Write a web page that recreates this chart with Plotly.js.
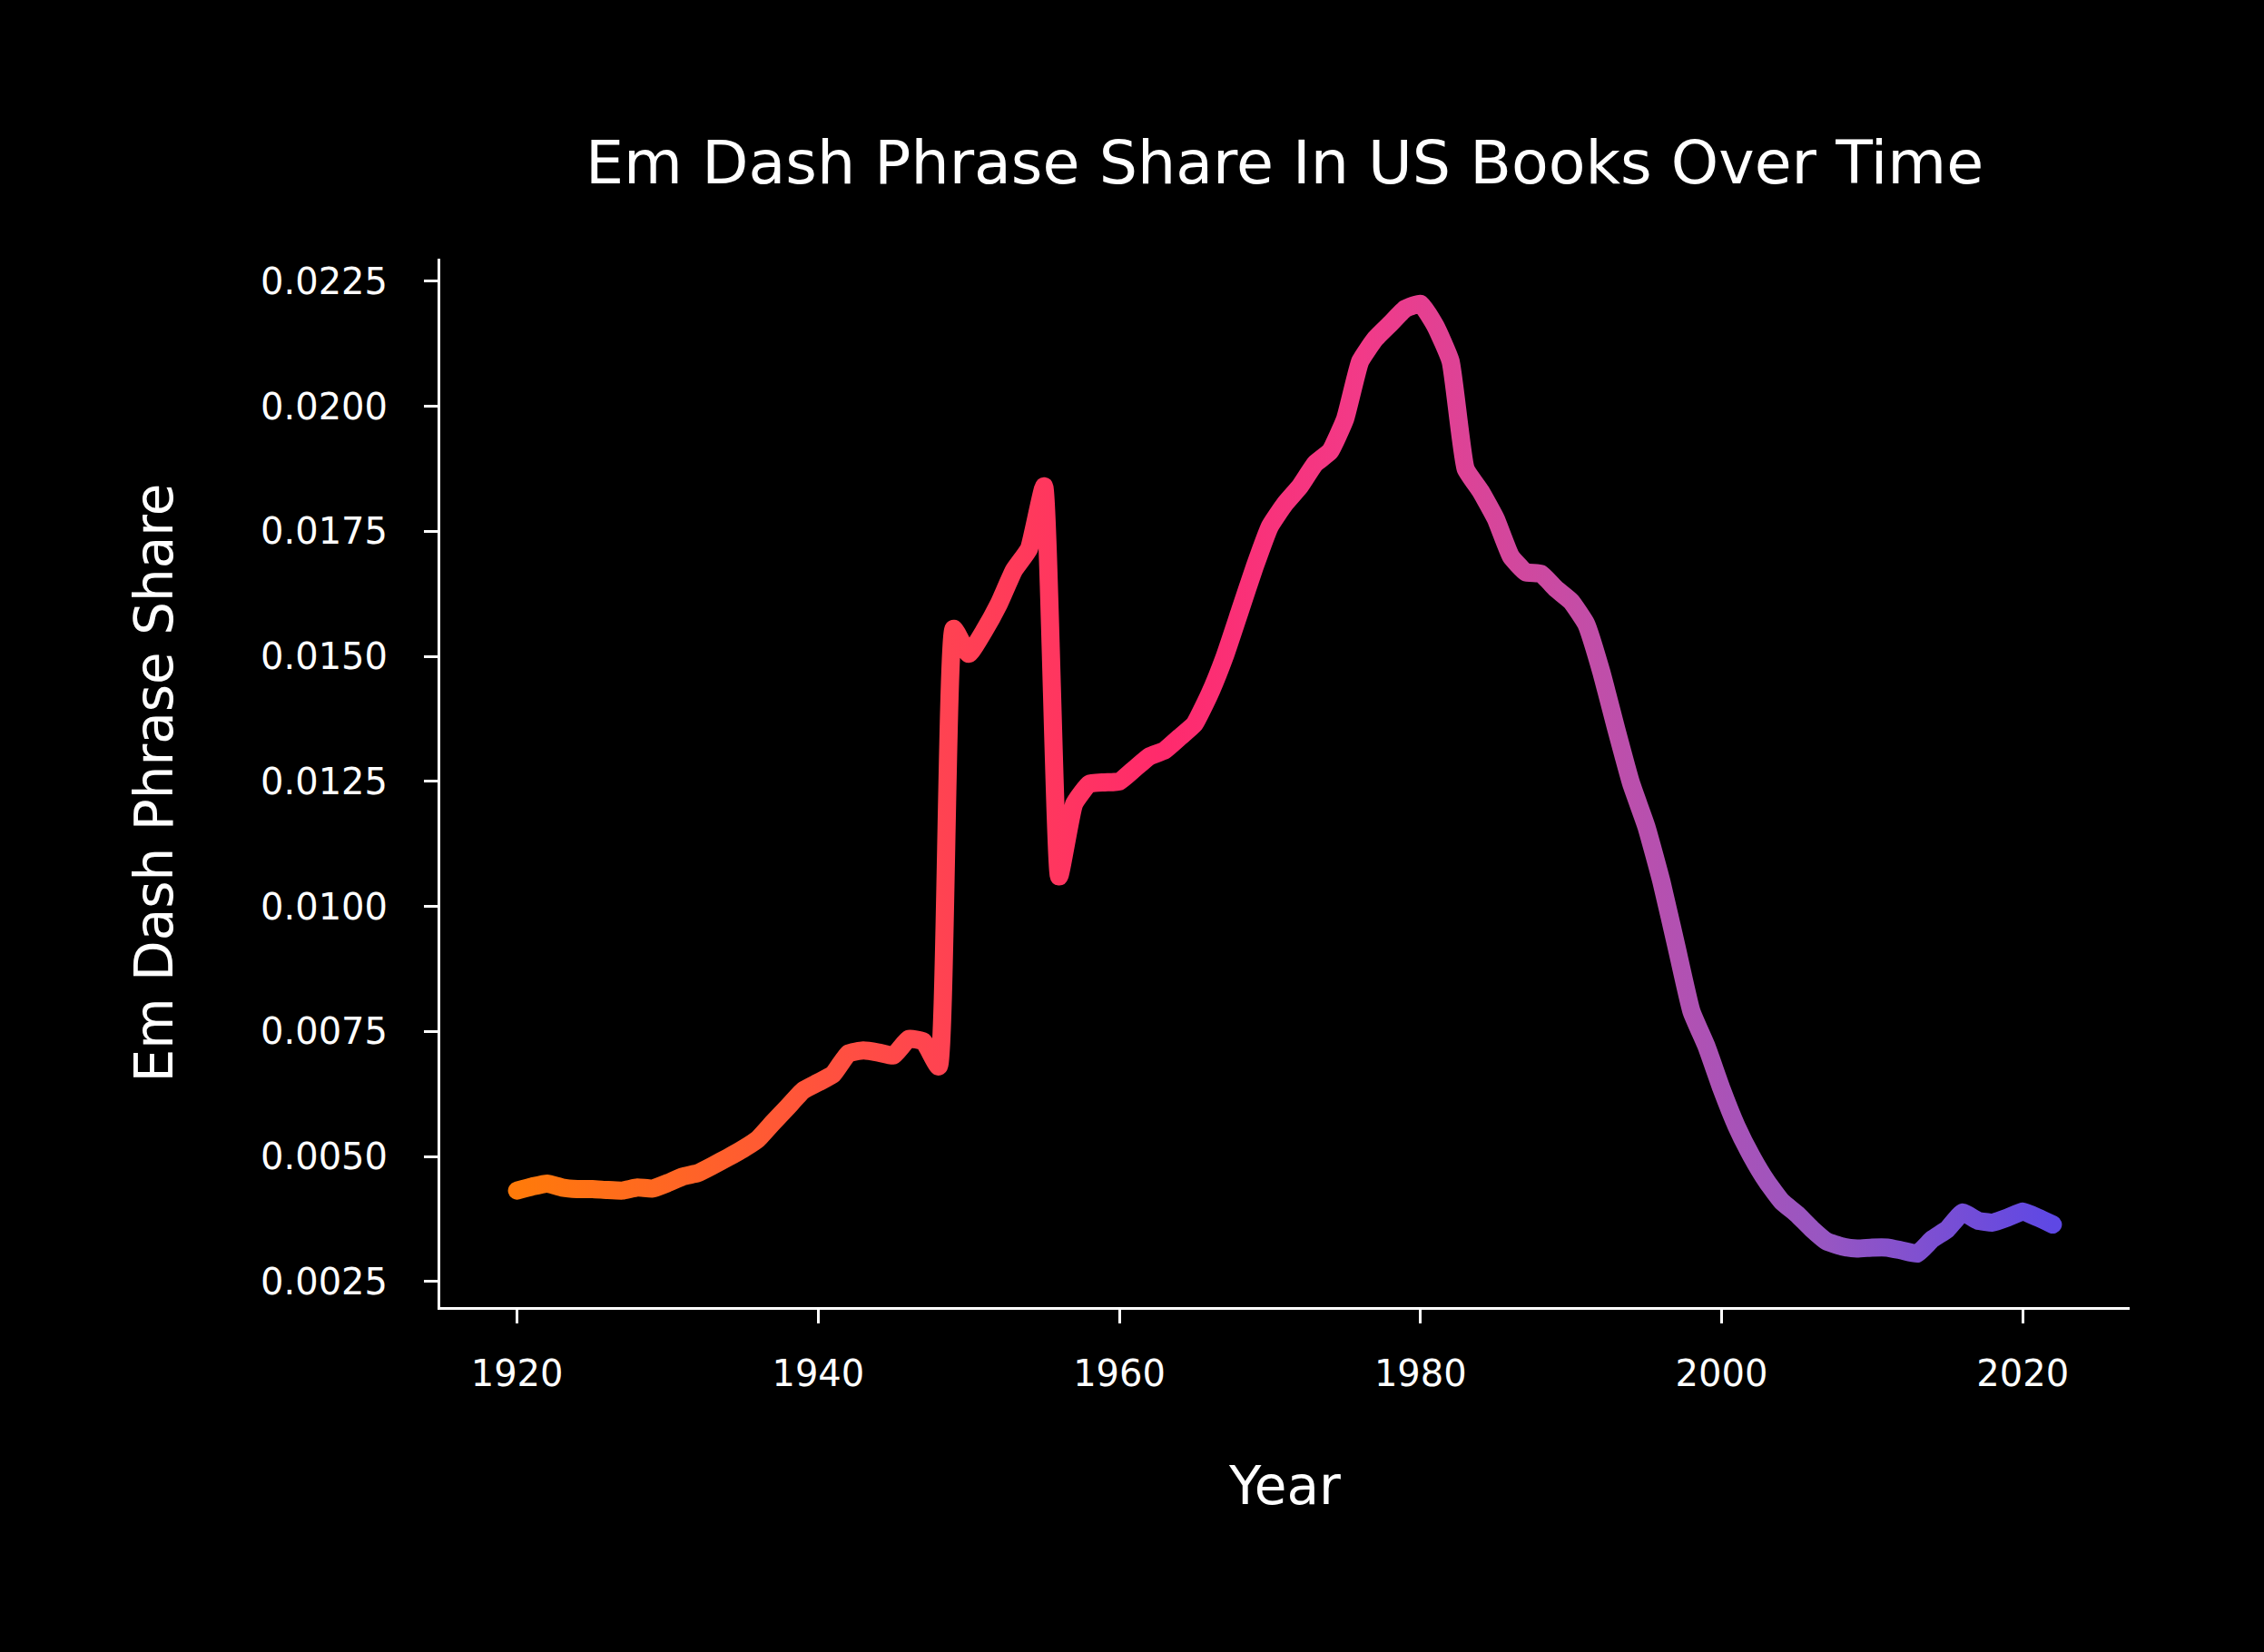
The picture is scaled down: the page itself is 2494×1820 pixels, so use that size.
<!DOCTYPE html>
<html>
<head>
<meta charset="utf-8">
<script src="https://cdn.plot.ly/plotly-3.0.1.min.js"></script>
<style>
  html, body { margin: 0; padding: 0; background: #000; }
  #chart { width: 2494px; height: 1820px; }
  .scatterlayer .js-line { stroke-linecap: round !important; stroke-linejoin: round !important; }
</style>
</head>
<body>
<div id="chart"></div>
<script>
var years = [];
for (var yr = 1920; yr <= 2022; yr++) years.push(yr);

// share of phrases with an em dash, one value per year 1920..2022
var share = [
  0.00432, 0.00440, 0.00446, 0.00438, 0.00435, 0.00435, 0.00433, 0.00432, 0.00438, 0.00436,
  0.00447, 0.00460, 0.00467, 0.00482, 0.00498, 0.00515, 0.00535, 0.00568, 0.00600, 0.00632,
  0.00648, 0.00665, 0.00706, 0.00712, 0.00708, 0.00702, 0.00735, 0.00730, 0.00680, 0.01555,
  0.01505, 0.01550, 0.01605, 0.01672, 0.01715, 0.01840, 0.01060, 0.01205, 0.01245, 0.01248,
  0.01250, 0.01275, 0.01300, 0.01312, 0.01338, 0.01365, 0.01425, 0.01500, 0.01590, 0.01680,
  0.01760, 0.01805, 0.01840, 0.01885, 0.01910, 0.01975, 0.02090, 0.02135, 0.02165, 0.02195,
  0.02205, 0.02160, 0.02090, 0.01875, 0.01830, 0.01775, 0.01700, 0.01668, 0.01665, 0.01635,
  0.01610, 0.01565, 0.01470, 0.01355, 0.01245, 0.01160, 0.01050, 0.00920, 0.00790, 0.00720,
  0.00635, 0.00560, 0.00500, 0.00450, 0.00410, 0.00385, 0.00355, 0.00330, 0.00320, 0.00316,
  0.00318, 0.00318, 0.00312, 0.00306, 0.00335, 0.00355, 0.00388, 0.00372, 0.00368, 0.00378,
  0.00390, 0.00378, 0.00364
];

var xTicks = [1920, 1940, 1960, 1980, 2000, 2020];
var yTicks = [0.0025, 0.0050, 0.0075, 0.0100, 0.0125, 0.0150, 0.0175, 0.0200, 0.0225];

// colour runs with time: orange -> pink -> violet
var stops = [
  [0.00, '#ff7a0a'],
  [0.27, '#ff4450'],
  [0.42, '#ff2a6c'],
  [0.55, '#f23a88'],
  [0.70, '#c24ea8'],
  [0.85, '#9856c2'],
  [1.00, '#5e48e4']
];

var trace = {
  x: years,
  y: share,
  type: 'scatter',
  mode: 'lines',
  line: { color: '#ff2a6c', width: 20, shape: 'spline', smoothing: 0.4 },
  hoverinfo: 'skip',
  showlegend: false
};

var fontFamily = '"DejaVu Sans", sans-serif';

var layout = {
  width: 2494,
  height: 1820,
  paper_bgcolor: '#000000',
  plot_bgcolor: '#000000',
  margin: { l: 485, r: 148, t: 285, b: 380, pad: 0 },
  showlegend: false,
  font: { family: fontFamily, color: '#ffffff' },
  title: {
    text: 'Em Dash Phrase Share In US Books Over Time',
    font: { family: fontFamily, color: '#ffffff', size: 66.6 },
    x: 0.5674, xref: 'container', xanchor: 'center',
    y: 0.9016, yref: 'container', yanchor: 'middle'
  },
  xaxis: {
    range: [1914.9, 2027.1],
    tickvals: xTicks,
    ticktext: xTicks.map(String),
    ticks: 'outside',
    ticklen: 15,
    tickwidth: 3,
    tickcolor: '#ffffff',
    ticklabelstandoff: 21,
    tickfont: { family: fontFamily, color: '#ffffff', size: 40 },
    showline: true,
    linecolor: '#ffffff',
    linewidth: 3,
    showgrid: false,
    zeroline: false,
    title: {
      text: 'Year',
      font: { family: fontFamily, color: '#ffffff', size: 58 },
      standoff: 82
    }
  },
  yaxis: {
    range: [0.00199, 0.02295],
    tickvals: yTicks,
    ticktext: yTicks.map(function(v){ return v.toFixed(4); }),
    ticks: 'outside',
    ticklen: 15,
    tickwidth: 3,
    tickcolor: '#ffffff',
    ticklabelstandoff: 32,
    tickfont: { family: fontFamily, color: '#ffffff', size: 40 },
    showline: true,
    linecolor: '#ffffff',
    linewidth: 3,
    showgrid: false,
    zeroline: false,
    title: {
      text: 'Em Dash Phrase Share',
      font: { family: fontFamily, color: '#ffffff', size: 58 },
      standoff: 78
    }
  }
};

// paint the plotted line with a left-to-right gradient laid on the x axis
function applyGradient(gd) {
  var xa = gd._fullLayout.xaxis;
  var svgNS = 'http://www.w3.org/2000/svg';
  var defs = gd.querySelector('.main-svg defs');
  var grad = document.createElementNS(svgNS, 'linearGradient');
  grad.setAttribute('id', 'emdashGrad');
  grad.setAttribute('gradientUnits', 'userSpaceOnUse');
  grad.setAttribute('x1', xa.l2p(years[0]));
  grad.setAttribute('x2', xa.l2p(years[years.length - 1]));
  grad.setAttribute('y1', 0);
  grad.setAttribute('y2', 0);
  stops.forEach(function(s) {
    var st = document.createElementNS(svgNS, 'stop');
    st.setAttribute('offset', s[0]);
    st.setAttribute('stop-color', s[1]);
    grad.appendChild(st);
  });
  defs.appendChild(grad);
  gd.querySelectorAll('.scatterlayer .js-line').forEach(function(p) {
    p.style.stroke = 'url(#emdashGrad)';
  });
}

Plotly.newPlot('chart', [trace], layout, { displayModeBar: false, responsive: false })
  .then(applyGradient);
</script>
</body>
</html>
